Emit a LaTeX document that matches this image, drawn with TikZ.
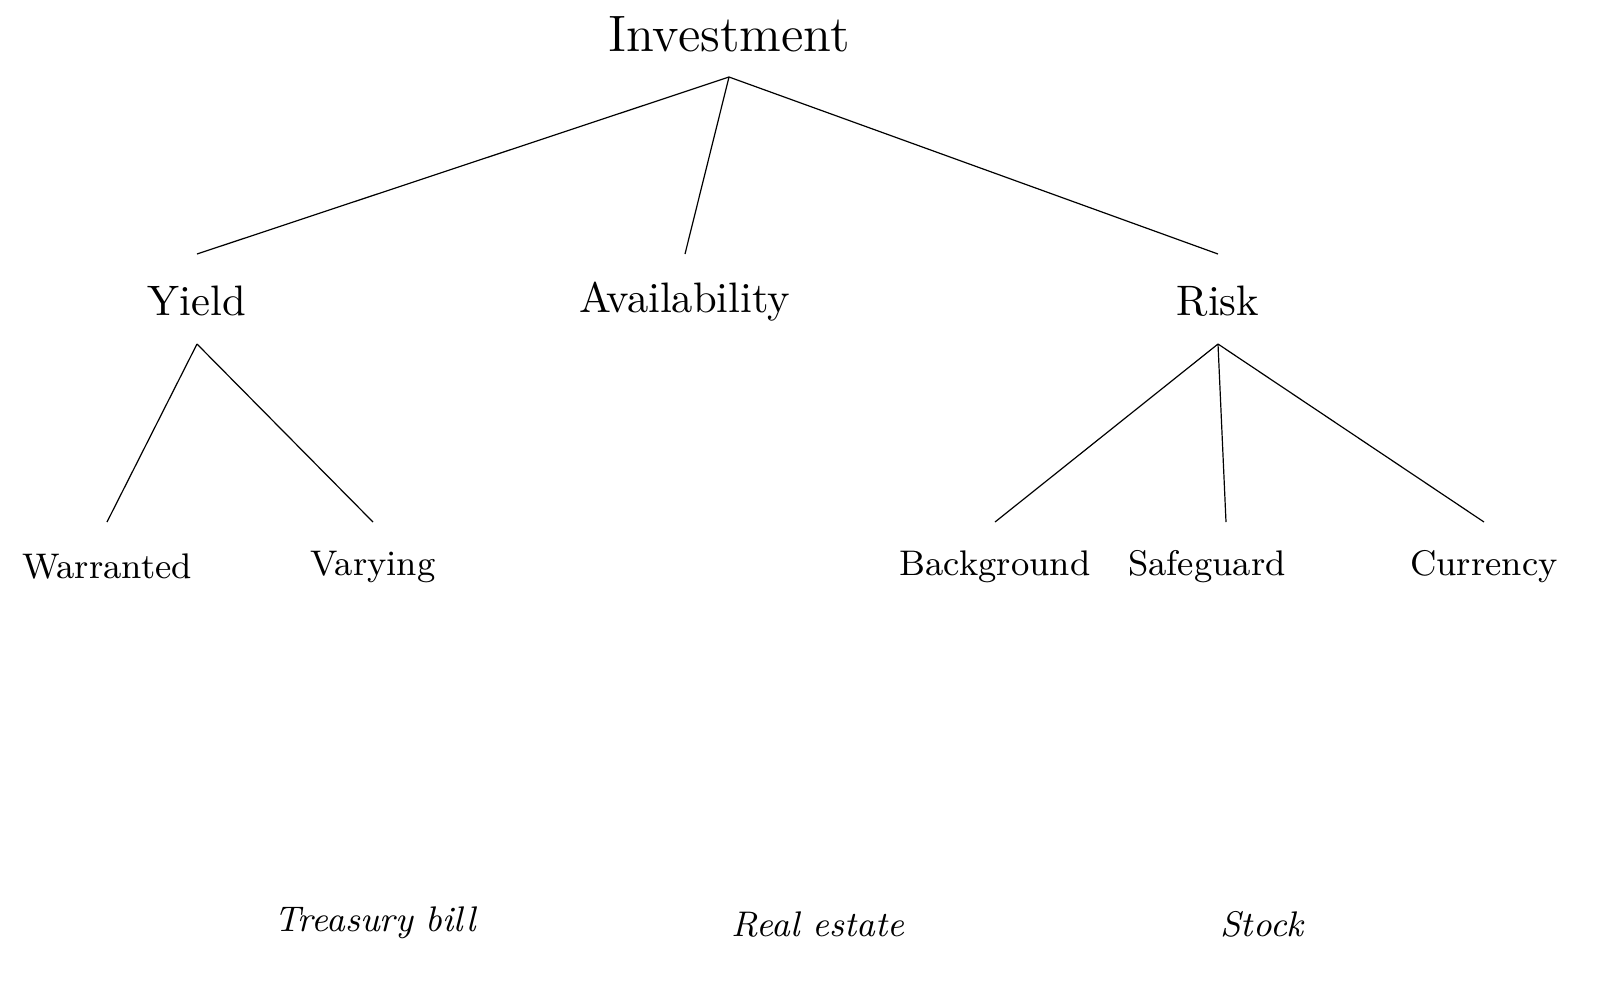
\documentclass[tikz,border=0pt]{standalone}
\begin{document}
\begin{tikzpicture}[x=0.25pt,y=-0.25pt,
  lvl0/.style={anchor=base,inner sep=0pt,font=\fontsize{12.8}{15}\selectfont},
  lvl1/.style={anchor=base,inner sep=0pt,font=\fontsize{10.65}{12.5}\selectfont},
  leaf/.style={anchor=base,inner sep=0pt,font=\fontsize{8.9}{11}\selectfont},
  alt/.style={anchor=base,inner sep=0pt,font=\fontsize{8.9}{11}\selectfont\itshape},
  edge/.style={draw=black,line width=0.3pt}]
\useasboundingbox (0,0) rectangle (1607,989);
\fill[white] (0,0) rectangle (1607,989);
% nodes
\node[lvl0] (inv) at (729,51) {Investment};
\node[lvl1] (yield) at (197,315) {Yield};
\node[lvl1] (avail) at (685,312) {Availability};
\node[lvl1] (risk) at (1218,315) {Risk};
\node[leaf] (warr) at (107,578) {Warranted};
\node[leaf] (vary) at (373,575) {Varying};
\node[leaf] (back) at (995,575) {Background};
\node[leaf] (safe) at (1207,575) {Safeguard};
\node[leaf] (curr) at (1484,575) {Currency};
\node[alt] (tbill) at (375,931) {Treasury bill};
\node[alt] (reale) at (818,936) {Real estate};
\node[alt] (stock) at (1262,936) {Stock};
% connector end points
\coordinate (invB) at (729,77);
\coordinate (yieldT) at (197,254);
\coordinate (availT) at (685,254);
\coordinate (riskT) at (1218,254);
\coordinate (yieldB) at (197,344);
\coordinate (riskB) at (1218,344);
\coordinate (warrT) at (107,522);
\coordinate (varyT) at (373,522);
\coordinate (backT) at (995,522);
\coordinate (safeT) at (1226,522);
\coordinate (currT) at (1484,522);
% connectors
\draw[edge] (invB) -- (yieldT);
\draw[edge] (invB) -- (availT);
\draw[edge] (invB) -- (riskT);
\draw[edge] (yieldB) -- (warrT);
\draw[edge] (yieldB) -- (varyT);
\draw[edge] (riskB) -- (backT);
\draw[edge] (riskB) -- (safeT);
\draw[edge] (riskB) -- (currT);
\end{tikzpicture}
\end{document}
